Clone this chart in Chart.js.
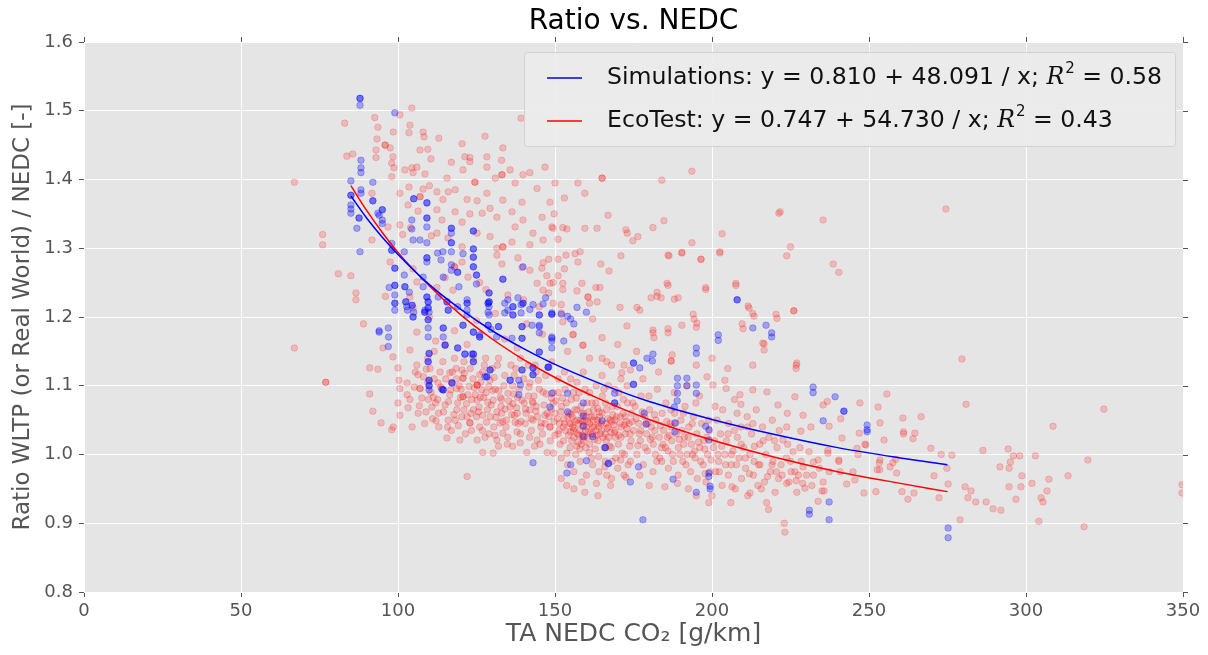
<!DOCTYPE html>
<html>
<head>
<meta charset="utf-8">
<title>Ratio vs. NEDC</title>
<script src="https://cdn.jsdelivr.net/npm/chart.js@4.4.1/dist/chart.umd.min.js"></script>
<style>
  html, body { margin: 0; padding: 0; background: #fff; }
  #wrap { width: 1208px; height: 655px; position: relative; }
</style>
</head>
<body>
<div id="wrap"><canvas id="chart"></canvas></div>
<script>
// EcoTest measurements: [TA NEDC CO2 g/km, ratio]
const ecoTestPoints = [
  // left edge, sparse
  [67,1.396],[67,1.155],[76,1.32],[76,1.305],[77,1.105],[77,1.105],[81,1.263],[83,1.482],[83.7,1.434],[85.6,1.437],
  [85,1.26],[86.6,1.235],[86.6,1.225],[89,1.19],[91,1.126],[93.6,1.124],[91,1.088],[92,1.063],[94.6,1.046],[98,1.036],
  [98.5,1.04],[92.6,1.49],[93.6,1.476],[93.3,1.459],[93,1.443],[93,1.432],[91.7,1.38],[91.7,1.312],[95.9,1.45],[95.9,1.45],
  [97.5,1.446],[98.5,1.469],[98.4,1.433],[98.7,1.417],[98,1.424],[98,1.404],[100.6,1.494],[104.4,1.504],[103.8,1.479],[103.5,1.468],
  [107,1.443],[108,1.469],[108.3,1.462],[109.5,1.444],[104.4,1.417],[104.8,1.41],[95.2,1.155],[98.4,1.142],[100,1.126],[100.3,1.108],
  [100.6,1.096],[100,1.075],[100.6,1.057],[96.8,1.331],[100.6,1.334],[100.6,1.38],[97.5,1.28],[96,1.23],
  // 100-150, upper scatter
  [102.2,1.414],[106,1.418],[108.6,1.408],[103.5,1.389],[108,1.386],[110,1.391],[112.4,1.382],[114.3,1.371],[116,1.382],[115.6,1.402],
  [118.2,1.385],[120.7,1.414],[124.5,1.396],[124.5,1.396],[122,1.371],[125.2,1.369],[128.3,1.38],[131,1.402],[133,1.428],[133.1,1.407],
  [133.1,1.407],[135.7,1.414],[137.3,1.395],[139.5,1.367],[142,1.41],[144.3,1.387],[146.8,1.418],[148.4,1.367],[150,1.395],[128.3,1.433],
  [121.3,1.433],[120.4,1.452],[122.9,1.432],[122.9,1.426],[127.7,1.463],[133.4,1.446],[128.3,1.418],[139.2,1.489],[139.8,1.407],[113,1.46],
  [117,1.425],[110.5,1.43],[103.2,1.363],[107,1.375],[107,1.375],[106.4,1.354],[112.4,1.356],[114,1.341],[118.2,1.353],[120.4,1.338],
  [122.9,1.35],[126.8,1.351],[129.3,1.358],[131.5,1.345],[133.4,1.37],[136.3,1.353],[137.3,1.331],[139.8,1.341],[143,1.322],[145.9,1.345],
  [146.2,1.312],[149,1.331],[142,1.305],[136.3,1.309],[133.4,1.302],[133.4,1.302],[131.5,1.3],[129.3,1.317],[125.2,1.322],[120.4,1.302],
  [115.9,1.315],[112.4,1.322],[110.6,1.318],[104,1.33],[101.5,1.32],[118,1.273],[118,1.273],[120.4,1.28],[115,1.257],[104.8,1.27],
  [106,1.251],[112.4,1.243],[122.3,1.258],[126,1.25],[131.5,1.29],[133.1,1.277],[138.2,1.286],[139.5,1.272],[142,1.268],[146.2,1.279],
  [147.4,1.26],[149.4,1.25],[144.3,1.249],[148,1.235],[149.4,1.22],[145,1.215],[117.5,1.239],[103.8,1.229],[104.8,1.213],[128,1.24],
  [135,1.232],[140,1.225],[110,1.2],[125,1.195],[131,1.205],[141,1.19],[118,1.18],[134,1.168],[146,1.175],[112,1.165],
  [106,1.178],[122,1.16],[138,1.155],
  // 150-240, upper scatter
  [151,1.313],[149.4,1.329],[149.7,1.35],[153.8,1.328],[152.5,1.33],[153,1.373],[157.3,1.395],[159.5,1.38],[165,1.402],[165,1.402],
  [166.9,1.348],[159.5,1.329],[163.4,1.329],[172.6,1.327],[173,1.322],[176.4,1.317],[174.8,1.311],[181.2,1.33],[184.7,1.34],[184,1.399],
  [193.6,1.412],[203.2,1.321],[193.6,1.308],[202.5,1.295],[221.3,1.351],[225,1.302],[223.8,1.289],[148,1.284],[151,1.284],[156.4,1.292],
  [158,1.295],[157.3,1.28],[153.5,1.29],[171,1.289],[186.3,1.289],[190.4,1.294],[196.5,1.284],[145.8,1.271],[153,1.27],[164.6,1.277],
  [167.2,1.267],[151,1.26],[146.2,1.239],[148.4,1.249],[152.5,1.249],[152.5,1.24],[158.6,1.249],[157,1.238],[160.5,1.229],[160.5,1.229],
  [161,1.22],[163,1.243],[164.3,1.243],[163.4,1.222],[185.7,1.249],[198,1.243],[207.6,1.249],[180.6,1.228],[182.5,1.236],[183.8,1.228],
  [189.2,1.228],[170.7,1.214],[176.1,1.214],[177,1.21],[152,1.218],[152,1.206],[152.5,1.193],[162,1.197],[172.9,1.187],[181.2,1.177],
  [186,1.183],[194,1.204],[195.2,1.191],[211.5,1.216],[213,1.205],[220.4,1.204],[226,1.209],[209.6,1.19],[155.8,1.175],[158.9,1.159],
  [158.9,1.159],[216.6,1.161],[207.6,1.246],[198,1.24],[196.5,1.284],[202.5,1.293],[190.4,1.293],[186,1.29],[186,1.246],[182.5,1.23],
  [188,1.226],[194.3,1.197],[195,1.185],[190.4,1.188],[186,1.177],[181.5,1.17],[187,1.136],[187,1.136],[211.8,1.213],[213.4,1.201],
  [220.7,1.198],[209.9,1.183],[216.6,1.152],[221.7,1.353],[235.4,1.341],[238.6,1.277],[240.4,1.265],[226.1,1.209],[226.8,1.13],[226.8,1.125],
  [155.7,1.174],[166.5,1.135],[171.3,1.119],[174,1.123],[187.3,1.145],[181.2,1.181],[227,1.133],[216.2,1.162],[170,1.16],[176,1.15],
  [165,1.17],[200,1.14],[205,1.125],[195,1.13],[213,1.13],
  // 100-150, dense lower band
  [103.8,1.152],[102.9,1.104],[102.9,1.087],[103.8,1.08],[103.2,1.068],[106,1.13],[106.4,1.116],[107,1.096],[107,1.096],[107.6,1.082],
  [106.4,1.06],[109,1.124],[110.5,1.09],[112.6,1.08],[110.8,1.069],[112.8,1.104],[113.4,1.12],[114.3,1.135],[116.5,1.119],[116.5,1.087],
  [115,1.072],[118.7,1.096],[120.4,1.123],[120.7,1.111],[120.7,1.111],[120.7,1.084],[120.7,1.084],[118.7,1.065],[122,1.055],[118.2,1.05],
  [125.2,1.101],[125.2,1.101],[125.2,1.101],[126,1.116],[126.7,1.094],[125.2,1.079],[124,1.065],[127,1.057],[122.9,1.046],[122.9,1.046],
  [125.2,1.021],[127.7,1.025],[127,1.003],[130.3,1.002],[129.3,1.108],[130.3,1.079],[131.5,1.062],[132.5,1.046],[133.4,1.031],[134,1.115],
  [135,1.089],[135.7,1.069],[137.3,1.047],[137.9,1.033],[139.5,1.079],[142,1.104],[142,1.065],[143,1.05],[144.3,1.021],[146.2,1.091],
  [146.8,1.057],[148.4,1.04],[148.4,1.04],[150,1.028],[149.4,1.075],[147.5,1.003],[149.5,1.002],[141,1.003],[143.5,1.012],[138.9,1.017],
  [136.5,1.012],[131.5,1.021],[115.6,1.024],[119.7,1.021],[122,0.968],[113,1.04],[117,1.035],[108.5,1.045],[111,1.052],[104.5,1.04],
  [105.5,1.12],[109.5,1.14],[111.5,1.15],[115,1.16],[118,1.14],[121,1.135],[124,1.14],[127.5,1.13],[130,1.125],[132,1.14],
  [136,1.13],[139,1.14],[141.5,1.13],[144,1.12],[147,1.115],[149,1.135],[128,1.09],[131,1.095],[133,1.08],[136.5,1.1],
  [138,1.06],[140.5,1.045],[141.5,1.085],[144,1.07],[145.5,1.04],[147.5,1.06],[149.5,1.09],[123.5,1.08],[119.5,1.1],[117,1.105],
  [114,1.095],[111.5,1.11],[128.5,1.065],[130.5,1.04],[134.5,1.05],[126,1.04],[121.5,1.03],[116,1.05],[139,1.03],[142.5,1.035],
  [145,1.095],[133,1.06],[135,1.025],[137,1.115],[140,1.11],[127,1.12],[123,1.125],[121,1.065],[112,1.075],[109.5,1.105],
  [119,1.075],[143,1.075],[146,1.03],[148.5,1.02],[132,1.012],[129,1.03],[125,1.055],[150,1.06],[151,1.11],
  [105.2,1.098],[106.8,1.071],[108.1,1.113],[108.9,1.062],[110.2,1.125],[111.3,1.083],[112.1,1.049],[113.6,1.098],[114.5,1.062],[115.2,1.11],
  [116.1,1.077],[117.3,1.12],[117.8,1.058],[118.6,1.11],[119.2,1.042],[120.1,1.095],[121.1,1.118],[121.8,1.074],[122.6,1.099],[123.2,1.06],
  [123.9,1.11],[124.6,1.087],[125.8,1.069],[126.4,1.105],[127.3,1.083],[128.2,1.047],[128.9,1.099],[129.7,1.072],[130.6,1.112],[131.2,1.054],
  [132.1,1.093],[132.8,1.07],[133.7,1.1],[134.4,1.04],[135.3,1.078],[136.2,1.058],[136.9,1.088],[137.8,1.068],[138.6,1.095],[139.1,1.048],
  [140.2,1.075],[140.8,1.06],[141.7,1.098],[142.4,1.052],[143.3,1.085],[143.9,1.063],[144.7,1.108],[145.6,1.046],[146.5,1.072],[147.2,1.088],
  [148.1,1.055],[148.8,1.066],[149.7,1.048],[150.3,1.078],[126.9,1.035],[130.9,1.028],[134.8,1.015],[138.3,1.045],[141.9,1.025],[145.2,1.015],
  [118.5,1.125],[123.4,1.035],[127.9,1.14],[112.9,1.06],[109.7,1.08],[143.7,1.13],[137.5,1.125],[131.7,1.13],[115.8,1.04],[120.3,1.055],
  [116.8,1.094],[119.9,1.083],[122.2,1.087],[124.3,1.097],[126.2,1.083],[128.6,1.076],[130.1,1.093],[132.6,1.083],[134.1,1.066],[136.6,1.074],
  [138.1,1.083],[140.6,1.066],[142.8,1.077],[144.4,1.055],[146.9,1.045],[148.9,1.082],[125.6,1.062],[129.4,1.055],[133.3,1.048],[137.1,1.057],
  // 150-175, densest band
  [151.4,1.045],[152.1,1.07],[152.7,1.02],[153.2,1.095],[153.4,1.035],[154.1,1.055],[154.8,1.01],[155.2,1.08],[155.6,1.04],[156.3,1.065],
  [156.6,1.0],[157.1,1.03],[157.7,1.09],[158.2,1.05],[158.4,1.015],[159.1,1.06],[159.7,1.035],[160.2,1.075],[160.4,1.025],[161.1,1.045],
  [161.6,0.995],[162.2,1.065],[162.4,1.04],[163.1,1.1],[163.7,1.02],[164.2,1.055],[164.4,1.03],[165.1,1.085],[165.7,1.01],[166.2,1.045],
  [166.4,1.065],[167.1,1.025],[167.6,1.05],[168.2,0.99],[168.3,1.07],[169.1,1.035],[169.6,1.055],[170.2,1.015],[170.4,1.09],[171.1,1.04],
  [171.7,1.06],[172.2,1.0],[172.4,1.03],[173.1,1.075],[173.6,1.045],[174.2,1.02],[174.3,1.06],[175,1.035],[151,1.09],[153,1.12],
  [155,1.11],[157,1.105],[159,1.12],[161,1.09],[163,1.075],[165,1.115],[167,1.1],[169,1.095],[171,1.11],[173,1.1],
  [152,0.995],[154,0.985],[156,0.975],[158,0.99],[160,0.97],[162,0.985],[164,0.975],[166,0.99],[168,0.965],[170,0.98],
  [172,0.97],[174,0.99],[155.5,1.055],[157.5,1.045],[159.5,1.05],[161.5,1.055],[163.5,1.05],[156,1.025],[160,1.04],[162,1.03],
  [158,1.035],[164,1.04],[166,1.03],[157,1.065],[159,1.02],[161,1.015],[165,1.06],[167,1.04],[169,1.05],[171,1.025],
  [153,1.045],[151,1.03],[154.5,1.06],[160,1.055],[162.5,1.055],[163,1.035],[157,1.05],[155,1.045],[158.5,1.06],[156,0.95],
  [159.5,0.945],[163.7,0.94],[152,0.965],[165,1.14],[168,1.13],[161,1.14],[154,1.15],[172,1.13],[172.6,0.967],[166.5,0.97],
  [150.8,1.052],[151.9,1.062],[152.6,1.04],[153.6,1.075],[154.3,1.028],[155.1,1.058],[155.9,1.035],[156.8,1.082],[157.4,1.018],[158.3,1.07],
  [158.9,1.042],[159.8,1.01],[160.7,1.062],[161.3,1.03],[162.1,1.05],[162.8,1.008],[163.6,1.067],[164.7,1.045],[165.3,1.025],[166.1,1.075],
  [166.8,1.052],[167.4,1.012],[168.4,1.058],[168.9,1.032],[169.8,1.07],[170.7,1.045],[171.4,1.002],[172.3,1.055],[172.9,1.038],[173.8,1.012],
  [174.6,1.048],[151.6,1.015],[153.8,1.002],[155.8,1.09],[157.9,1.008],[159.6,1.095],[161.8,1.075],[163.9,0.997],[165.6,1.095],[167.9,1.01],
  [169.4,0.995],[171.8,1.08],[173.3,0.985],[152.4,1.082],[154.6,1.045],[156.4,1.048],[158.7,1.028],[160.4,1.048],[162.6,1.022],[164.1,1.062],
  [166.6,1.038],[168.7,1.043],[170.3,1.028],[172.7,1.048],[174.8,1.075],[156.9,1.012],[160.9,1.003],[165.9,0.982],[170.9,0.992],[153.7,0.955],
  [158.6,0.96],[163.2,0.958],[167.7,0.955],
  [151.2,1.035],[152.9,1.052],[154.9,1.033],[156.1,1.038],[157.6,1.028],[158.8,1.048],[160.6,1.033],[161.9,1.04],[163.3,1.028],[164.9,1.035],
  [166.3,1.02],[167.8,1.032],[169.2,1.025],[170.8,1.055],[172.1,1.043],[173.9,1.03],[155.3,1.02],[159.3,1.025],[163.8,1.045],[168.1,1.048],
  // 175-205
  [175.5,1.07],[176.1,1.0],[176.7,1.045],[177.2,1.02],[177.4,1.085],[178.1,0.985],[178.6,1.055],[179.2,1.03],[179.4,1.005],[180.1,1.065],
  [180.7,1.04],[181.2,0.975],[181.3,1.015],[182.1,1.05],[182.6,1.095],[183.2,1.025],[183.4,0.995],[184.1,1.06],[184.6,1.035],[185.2,1.01],
  [185.3,1.075],[186.1,0.98],[186.7,1.045],[187.2,1.02],[187.4,1.0],[188.1,1.06],[188.6,1.03],[189.2,0.97],[189.3,1.01],[190.1,1.05],
  [190.7,0.99],[191.2,1.025],[191.4,1.07],[192.1,1.0],[192.6,1.04],[193.2,0.975],[193.4,1.015],[194.1,1.055],[194.6,0.995],[195.2,1.03],
  [195.3,0.965],[196.1,1.01],[196.7,1.045],[197.2,0.985],[197.4,1.02],[198.1,0.96],[198.6,1.0],[199.2,1.035],[199.4,0.975],[178,1.11],
  [183,1.12],[188,1.09],[192,1.1],[196,1.085],[180,0.955],[185,0.953],[189,0.958],[192.5,0.95],[195,0.94],[199,0.93],
  [177,0.97],[182,1.0],[187,1.04],[191,1.015],[186,1.005],[181,1.025],[179,1.045],[184,0.99],[198.4,1.113],[200.3,1.101],
  [175.8,1.052],[176.9,1.03],[177.8,1.062],[178.7,1.01],[179.6,1.045],[180.4,1.022],[181.7,1.058],[182.4,0.99],[183.6,1.042],[184.4,1.015],
  [185.6,1.048],[186.4,1.028],[187.7,0.99],[188.4,1.045],[189.6,1.022],[190.4,1.035],[191.7,0.985],[192.4,1.025],[193.7,1.045],[194.4,1.005],
  [195.7,1.018],[196.4,0.99],[197.7,1.008],[198.4,1.025],[199.7,0.992],[200.8,1.02],[201.9,1.0],[203.1,1.012],[204.3,0.985],[205.1,1.03],
  [177.3,1.035],[181.8,1.035],[185.8,1.025],[189.8,1.0],[193.8,1.0],[197.8,0.972],[202.3,0.975],[179.9,1.085],[186.9,1.065],[194.9,1.075],
  [176.4,1.013],[183.9,1.01],[190.9,1.06],[198.9,1.05],
  // 200-230
  [200.5,1.01],[201.2,0.975],[201.6,1.05],[202.1,0.99],[202.7,1.03],[203.2,0.955],[203.4,1.065],[204.1,1.0],[204.6,1.02],[205.2,0.97],
  [205.3,1.045],[206.1,0.985],[206.4,0.953],[206.7,1.005],[207.2,1.08],[207.4,0.95],[208.1,1.025],[208.6,0.995],[209.2,1.04],[209.4,0.965],
  [210.1,1.01],[210.7,0.98],[211.2,1.055],[211.4,0.94],[212.1,1.0],[212.6,1.03],[213.2,0.97],[213.4,0.99],[214.1,1.065],[214.6,0.955],
  [215.2,1.015],[215.3,0.985],[216.1,1.04],[216.7,0.96],[217.2,1.0],[217.4,0.93],[218.1,1.025],[218.6,0.975],[219.2,1.05],[219.4,0.99],
  [220.1,0.945],[220.7,1.01],[221.2,0.965],[221.4,1.035],[222,0.985],[204.1,1.108],[208.9,1.087],[213,1.094],[217.5,1.091],[221,1.072],
  [200,0.94],[206,0.93],[212.1,0.944],[218,0.92],[201,1.07],[208,1.06],[213,1.045],[223,0.9],[204.5,1.096],[209.2,1.073],
  [206.2,1.0],[207.8,0.985],[209.3,1.015],[210.6,0.995],[211.9,0.972],[213.5,1.012],[214.8,0.985],[216.3,1.02],[217.7,0.968],[219.1,0.985],
  [220.5,0.975],[222.3,0.97],[223.7,0.995],[225.2,0.975],[226.8,0.962],[228.4,0.99],[230.1,0.97],[207.1,1.035],[211.3,1.04],[215.7,0.95],
  [219.9,1.02],[224.1,1.015],[228.9,0.958],[231.8,0.955],[234.2,0.98],
  // 222-350
  [223.2,0.887],[229.6,0.951],[232.3,0.97],[233.8,0.932],[235,0.947],[235.7,0.947],[235.4,0.96],[237.3,0.975],[236.9,1.006],[236.9,1.002],
  [237.3,1.041],[240.4,0.992],[240.8,0.975],[241.4,1.024],[241,1.052],[242.9,0.957],[245.5,0.963],[246.5,1.0],[246.9,1.031],[247.1,1.075],
  [248.4,0.944],[249,1.014],[252.2,0.946],[252.9,1.069],[253.5,1.046],[254.8,1.021],[253.3,0.988],[253.4,0.978],[255.7,1.088],[256.7,0.982],
  [257.6,0.988],[258.8,0.973],[260.5,0.946],[260.8,1.053],[261,1.033],[261,1.03],[262.4,0.935],[264.3,0.944],[264.6,1.031],[264,1.023],
  [266.6,1.055],[269.7,1.009],[270.7,0.969],[272.3,0.937],[273,1.0],[274.8,0.98],[275.2,0.957],[276.4,0.999],[274.5,1.357],[279.6,1.139],
  [280.9,1.073],[324.8,1.066],[308.6,1.041],[319.7,0.992],[286.3,1.006],[294.3,1.008],[296,0.998],[298,0.998],[303,0.998],[291.7,0.982],
  [294.6,0.98],[295,0.989],[298.7,0.969],[313.4,0.969],[307.3,0.964],[301.9,0.958],[294.6,0.953],[298.4,0.953],[306.7,0.947],[296.8,0.935],
  [304.8,0.937],[305.4,0.931],[280.6,0.953],[282.5,0.947],[281.5,0.937],[284,0.931],[287.3,0.931],[289.5,0.921],[292,0.919],[279,0.905],
  [304.1,0.903],[318.5,0.895],[349.7,0.956],[349.7,0.944],[226.4,1.084],[229,1.057],[235.4,1.072],[236.7,1.077],[231.5,1.04],[228.3,1.034],
  [222.6,1.021],[223.8,1.04],[225.8,1.004],[230.9,1.004],[233.8,0.992],[226.4,0.975],[227.5,0.97],[223.8,0.958],[224.5,0.96],[229,0.982],
  [232.3,0.989],[240.4,0.99],[244.9,0.975],[246.2,1.009],[248.7,1.015],[252.6,0.978],[258.5,0.993],[253.5,0.992],[225,0.99],[228,1.01],
  [224,1.06],[227,0.945]
];

// Simulation results: [TA NEDC CO2 g/km, ratio]
const simulationPoints = [
  [85,1.398],[85,1.377],[85,1.377],[85,1.363],[85,1.357],[85,1.351],
  [87.9,1.518],[87.9,1.518],[87.9,1.508],[88.2,1.428],[88.2,1.417],[88.2,1.41],[88.2,1.385],[88.2,1.38],[87.6,1.344],[87.6,1.344],[86.9,1.329],[87.9,1.295],
  [92,1.396],[92,1.369],[92,1.369],[93.6,1.351],
  [95,1.356],[95,1.356],[95,1.341],[95,1.336],[94,1.348],[94,1.178],[94,1.18],
  [96.9,1.184],[96.9,1.157],[97.2,1.243],[97,1.171],
  [98,1.307],[98,1.297],[98,1.297],[99,1.271],[99,1.271],[99,1.246],[99,1.246],[99,1.232],[99,1.22],[99,1.22],[99,1.21],[99,1.497],
  [102,1.295],[105,1.372],[105,1.372],[104.4,1.341],[104.4,1.328],[104.8,1.312],[102,1.261],[102.2,1.244],[102.2,1.244],[103.6,1.236],
  [102.5,1.222],[102.5,1.222],[102.8,1.215],[104.5,1.217],[104.5,1.217],[105,1.207],[103,1.21],[104.8,1.2],[104.8,1.2],
  [107,1.312],[108,1.258],[108,1.244],[109.2,1.366],[109.2,1.366],[109.2,1.344],[109.2,1.344],[109.2,1.331],[109.2,1.308],[109.2,1.286],
  [109.2,1.286],[109.2,1.28],[109.2,1.229],[109.2,1.229],[109.6,1.222],[109.6,1.222],[109.6,1.213],[109.6,1.213],[108.5,1.207],[108.5,1.207],
  [109.9,1.207],[108.6,1.21],[109.6,1.196],[109.6,1.196],[109.6,1.184],[109.6,1.171],[109.9,1.147],[109.9,1.147],[109.6,1.135],[109.6,1.135],
  [109.9,1.108],[109.9,1.108],[109.9,1.1],[109.9,1.1],[109.9,1.094],
  [112.6,1.293],[113.7,1.283],[114.3,1.295],[114.4,1.258],[112.8,1.229],[115.6,1.222],[115.6,1.222],[116,1.21],[116,1.21],[114.4,1.184],
  [114.4,1.184],[114.4,1.171],[115,1.159],[115,1.159],[114.4,1.094],[114.4,1.094],[114,1.095],
  [117,1.329],[117,1.329],[117,1.322],[117,1.308],[117,1.308],[117,1.295],[117,1.276],[117,1.268],[119,1.265],[119,1.265],
  [119.4,1.244],[119,1.215],[119,1.155],[119,1.155],[117.2,1.104],[117.2,1.104],[120.7,1.292],[120.7,1.188],[120.7,1.188],
  [122,1.225],[122,1.22],[122,1.22],[122,1.21],[122,1.203],[121.3,1.146],[121.3,1.146],[124,1.146],[124,1.146],[124,1.135],
  [124,1.135],[124,1.178],[124,1.178],[126,1.171],[126,1.171],[124,1.325],[124,1.325],[124,1.299],[124,1.299],[124,1.287],
  [124,1.287],[124,1.273],[124,1.273],[125,1.261],[125,1.261],[125,1.248],[126,1.174],[123.5,1.146],
  [129,1.235],[129,1.235],[129,1.222],[129,1.222],[129,1.215],[129,1.203],[128.7,1.22],[128.7,1.22],[128.7,1.207],[128.7,1.188],
  [128.7,1.188],[129.6,1.182],[128.3,1.113],[128.3,1.113],[129.3,1.123],[129.3,1.123],[127.7,1.113],
  [133.4,1.255],[133.4,1.255],[132,1.186],[132,1.186],[131.4,1.171],[134,1.22],[134,1.206],
  [135,1.225],[136.6,1.215],[136.6,1.215],[135,1.21],[138.2,1.228],[139.2,1.218],[139.2,1.206],[139.8,1.273],[136.6,1.203],[136.6,1.203],
  [136.3,1.169],[139.5,1.186],[139.5,1.186],[139.5,1.169],[139.5,1.169],[139.8,1.22],[139.8,1.22],[135.7,1.108],[135.7,1.108],[138.5,1.108],
  [138.5,1.087],[139.5,1.123],[139.5,1.123],[139,1.101],
  [142,1.211],[143,1.218],[142.7,1.188],[143,1.126],[143,1.126],[143,1.116],[143,1.116],[143,0.988],[145,1.203],[145,1.203],
  [145,1.188],[145,1.177],[145,1.149],[145,1.149],[145,1.186],[146.2,1.219],[147,1.228],
  [149,1.204],[149,1.204],[149,1.206],[149,1.171],[149,1.155],[149,1.165],[147.8,1.127],[147.8,1.127],[148,1.127],[148.4,1.069],
  [149,1.089],[149,1.169],
  [152,1.204],[154,1.201],[155,1.197],[152.8,1.165],[154,1.089],[154,1.062],[155,0.985],[153.8,0.973],[157,1.214],[156,1.19],
  [160,1.207],[159,1.075],[159,1.056],[159,1.041],[159,1.026],[160,0.991],[162,1.026],[165,1.049],[166,1.01],[166,1.01],
  [167,0.987],[167,0.987],[169,1.089],[169,1.075],[169,1.075],
  [175,1.133],[175,1.133],[175,1.102],[175,1.102],[177,1.126],[179.3,1.14],[181.2,1.146],[181,1.136],[174,0.96],[176.6,0.982],
  [178,0.905],[179,1.044],[178.4,1.06],
  [187.6,0.964],[188.2,1.033],[188.2,1.046],[188,1.069],[188.9,1.078],[189,1.1],[189,1.111],[192,1.111],[192,1.1],[189,1.089],
  [195,1.155],[195,1.147],[195,1.101],[195,1.089],[195,0.945],[198,1.041],[199,1.021],[199,1.036],[199.4,0.954],[199.4,0.95],
  [199,0.973],[199,0.968],[202,1.174],[202,1.166],
  [208,1.225],[208,1.225],[213,1.184],[217.2,1.188],[219,1.171],[219,1.177],
  [232.2,1.098],[232.2,1.09],[239.2,1.084],[242,1.063],[242,1.063],[235.4,1.049],[249.4,1.043],[249.4,1.036],[249.4,1.033],[231,0.919],
  [231,0.913],[237.3,0.931],[237.3,0.905],[275.2,0.893],[275.2,0.879]
];

// fitted curves, read at these x positions
const fitX    = [85, 90, 95, 100, 110, 120, 130, 140, 150, 165, 180, 200, 220, 240, 260, 275];
const simFitY = [1.376, 1.344, 1.316, 1.291, 1.247, 1.211, 1.180, 1.154, 1.131, 1.102, 1.077, 1.051, 1.029, 1.010, 0.995, 0.985];
const ecoFitY = [1.391, 1.355, 1.323, 1.294, 1.245, 1.203, 1.168, 1.138, 1.112, 1.079, 1.051, 1.021, 0.996, 0.975, 0.958, 0.946];

const legendRows = [
  { text: "Simulations: y = 0.810 + 48.091 / x;", r2: "0.58", color: "#0000ff" },
  { text: "EcoTest: y = 0.747 + 54.730 / x;", r2: "0.43", color: "#ff0000" },
];

const xTicks = [0, 50, 100, 150, 200, 250, 300, 350];
const yTicks = [0.8, 0.9, 1.0, 1.1, 1.2, 1.3, 1.4, 1.5, 1.6];

const FONT = "'DejaVu Sans', sans-serif";
const toXY = (arr) => arr.map(([x, y]) => ({ x, y }));

const plotBackground = {
  id: "plotBackground",
  beforeDraw(chart) {
    const { ctx, chartArea: a } = chart;
    ctx.save();
    ctx.fillStyle = "#e5e5e5";
    ctx.fillRect(a.left, a.top, a.right - a.left, a.bottom - a.top);
    ctx.restore();
  },
};

// matplotlib draws tick marks on all four sides
const mirrorTicks = {
  id: "mirrorTicks",
  afterDraw(chart) {
    const { ctx, chartArea: a, scales } = chart;
    ctx.save();
    ctx.strokeStyle = "#555";
    ctx.lineWidth = 1;
    ctx.beginPath();
    scales.y.ticks.forEach((t) => {
      const y = Math.round(scales.y.getPixelForValue(t.value)) + 0.5;
      ctx.moveTo(a.right, y);
      ctx.lineTo(a.right + 5, y);
    });
    scales.x.ticks.forEach((t) => {
      const x = Math.round(scales.x.getPixelForValue(t.value)) + 0.5;
      ctx.moveTo(x, a.top - 5);
      ctx.lineTo(x, a.top);
    });
    ctx.stroke();
    ctx.restore();
  },
};

const fitLegend = {
  id: "fitLegend",
  afterDatasetsDraw(chart) {
    const { ctx, chartArea: a } = chart;
    const main = "23.6px " + FONT;
    const ital = "italic 23.6px 'DejaVu Serif', serif";
    const sup = "15px " + FONT;
    ctx.save();
    const widths = legendRows.map((r) => {
      ctx.font = main;
      let w = ctx.measureText(r.text + " ").width;
      ctx.font = ital;
      w += ctx.measureText("R").width + 1;
      ctx.font = sup;
      w += ctx.measureText("2").width;
      ctx.font = main;
      w += ctx.measureText(" = " + r.r2).width;
      return w;
    });
    const textW = Math.max(...widths);
    const boxW = textW + 83 + 13;
    const boxH = 94;
    const bx = a.right - 8 - boxW;
    const by = a.top + 10;
    ctx.fillStyle = "rgba(236,236,236,0.92)";
    ctx.strokeStyle = "#d2d2d2";
    ctx.lineWidth = 1;
    ctx.beginPath();
    ctx.roundRect(Math.round(bx) + 0.5, Math.round(by) + 0.5, Math.round(boxW), boxH, 3);
    ctx.fill();
    ctx.stroke();

    ctx.textBaseline = "middle";
    legendRows.forEach((r, i) => {
      const cy = by + 26 + i * 43;
      ctx.strokeStyle = r.color;
      ctx.lineWidth = 1.5;
      ctx.beginPath();
      ctx.moveTo(bx + 23, cy);
      ctx.lineTo(bx + 58, cy);
      ctx.stroke();
      let x = bx + 83;
      ctx.fillStyle = "#111";
      ctx.font = main;
      ctx.fillText(r.text + " ", x, cy);
      x += ctx.measureText(r.text + " ").width;
      ctx.font = ital;
      ctx.fillText("R", x, cy);
      x += ctx.measureText("R").width + 1;
      ctx.font = sup;
      ctx.fillText("2", x, cy - 9);
      x += ctx.measureText("2").width;
      ctx.font = main;
      ctx.fillText(" = " + r.r2, x, cy);
    });
    ctx.restore();
  },
};

new Chart(document.getElementById("chart"), {
  type: "scatter",
  data: {
    datasets: [
      {
        label: "Simulations fit",
        type: "line",
        data: fitX.map((x, i) => ({ x, y: simFitY[i] })),
        borderColor: "#0000ff",
        borderWidth: 1.5,
        pointRadius: 0,
        cubicInterpolationMode: "monotone",
        fill: false,
        order: 0,
      },
      {
        label: "EcoTest fit",
        type: "line",
        data: fitX.map((x, i) => ({ x, y: ecoFitY[i] })),
        borderColor: "#ff0000",
        borderWidth: 1.5,
        pointRadius: 0,
        cubicInterpolationMode: "monotone",
        fill: false,
        order: 0,
      },
      {
        label: "Simulations",
        data: toXY(simulationPoints),
        backgroundColor: "rgba(0,0,255,0.30)",
        borderColor: "rgba(0,0,255,0.32)",
        borderWidth: 0.8,
        pointRadius: 3.3,
        order: 1,
      },
      {
        label: "EcoTest",
        data: toXY(ecoTestPoints),
        backgroundColor: "rgba(255,0,0,0.19)",
        borderColor: "rgba(255,0,0,0.22)",
        borderWidth: 0.8,
        pointRadius: 3.3,
        order: 2,
      },
    ],
  },
  options: {
    responsive: true,
    maintainAspectRatio: false,
    devicePixelRatio: 1,
    animation: false,
    layout: { padding: { left: 0, right: 25, top: 0, bottom: 0 } },
    scales: {
      x: {
        type: "linear",
        min: 0,
        max: 350,
        afterBuildTicks: (s) => { s.ticks = xTicks.map((v) => ({ value: v })); },
        afterFit: (s) => { s.height = 63; },
        ticks: { color: "#555", font: { family: FONT, size: 18 }, padding: 4, maxRotation: 0 },
        grid: { color: "#ffffff", lineWidth: 1, tickColor: "#555", tickLength: 5 },
        border: { display: false },
        title: {
          display: true,
          text: "TA NEDC CO₂ [g/km]",
          color: "#555",
          font: { family: FONT, size: 25 },
          padding: { top: 0, bottom: 6 },
        },
      },
      y: {
        type: "linear",
        min: 0.8,
        max: 1.6,
        afterBuildTicks: (s) => { s.ticks = yTicks.map((v) => ({ value: v })); },
        afterFit: (s) => { s.width = 84; },
        ticks: { color: "#555", font: { family: FONT, size: 18 }, padding: 6, callback: (v) => Number(v).toFixed(1) },
        grid: { color: "#ffffff", lineWidth: 1, tickColor: "#555", tickLength: 5 },
        border: { display: false },
        title: {
          display: true,
          text: "Ratio WLTP (or Real World) / NEDC [-]",
          color: "#555",
          font: { family: FONT, size: 23 },
          padding: { top: 9, bottom: 0 },
        },
      },
    },
    plugins: {
      legend: { display: false },
      tooltip: { enabled: false },
      title: {
        display: true,
        fullSize: false,
        text: "Ratio vs. NEDC",
        color: "#000",
        font: { family: FONT, size: 28, weight: "normal" },
        padding: { top: 5, bottom: 3.4 },
      },
    },
  },
  plugins: [plotBackground, mirrorTicks, fitLegend],
});
</script>
</body>
</html>
